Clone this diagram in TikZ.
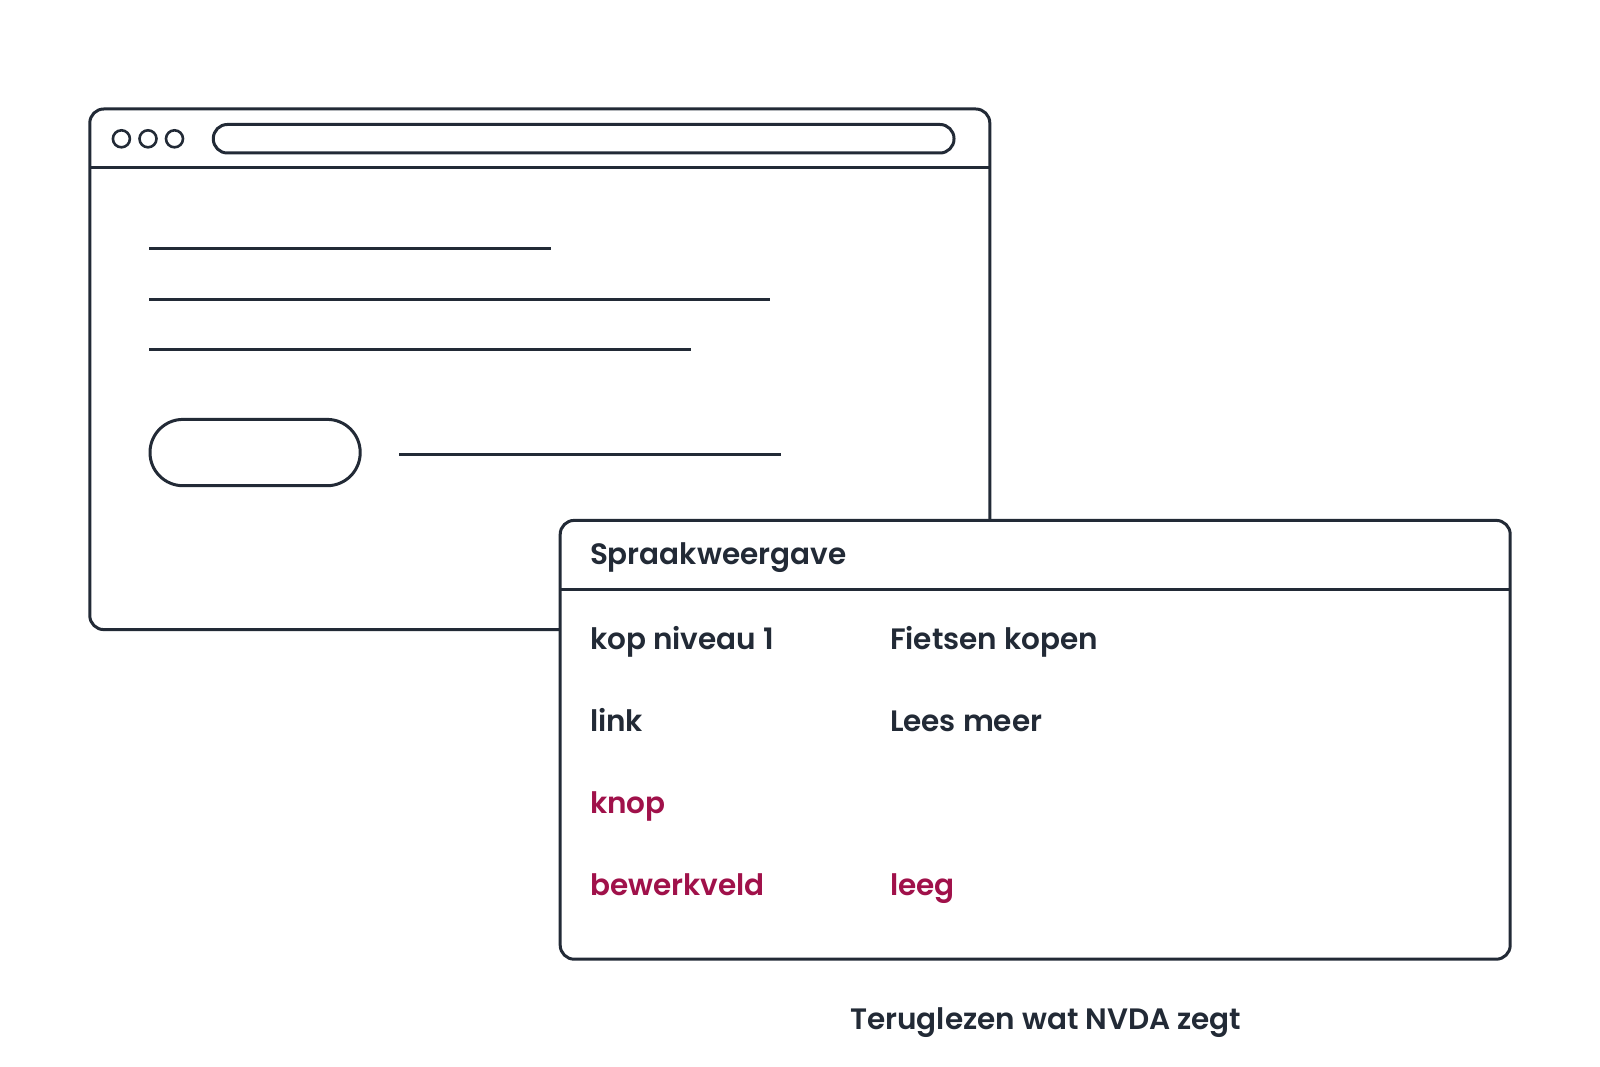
\documentclass[tikz,border=0pt]{standalone}
\usepackage{fontspec}
\setmainfont{Poppins}[UprightFont={* SemiBold}]
\definecolor{ink}{HTML}{222A36}
\definecolor{mag}{HTML}{A0114A}
\begin{document}
\begin{tikzpicture}[x=1pt,y=-1pt,
  frame/.style={draw=ink,line width=3pt},
  dot/.style={draw=ink,line width=2.6pt,circle,minimum size=17pt,inner sep=0pt},
  txt/.style={anchor=base west,text=ink,font=\fontsize{29.5}{35}\selectfont,inner sep=0pt},
  hl/.style={txt,text=mag}]
\useasboundingbox (0,0) rectangle (1600,1067);
% browser window
\draw[frame,rounded corners=14pt] (89.8,109) rectangle (989.8,629.6);
\draw[frame] (89.8,167.3) -- (989.8,167.3);
\node[dot] (d1) at (121.4,138.8) {};
\node[dot] (d2) at (148,138.8) {};
\node[dot] (d3) at (174.5,138.8) {};
\draw[frame,rounded corners=14pt] (213.3,124.5) rectangle (954,153);
\draw[frame] (149,249) -- (551,249);
\draw[frame] (149,299) -- (770.4,299);
\draw[frame] (149,349) -- (690.8,349);
\draw[frame,rounded corners=33pt] (150,419.4) rectangle (360.2,485.7);
\draw[frame] (399,454) -- (780.6,454);
% speech viewer
\draw[frame,fill=white,rounded corners=14pt] (560.2,520.4) rectangle (1510.2,959.2);
\draw[frame] (560.2,589.8) -- (1510.2,589.8);
\node[txt] (title) at (589.8,564.5) {Spraakweergave};
\node[txt] (r1a) at (589.8,649) {kop niveau 1};
\node[txt] (r1b) at (889.8,649) {Fietsen kopen};
\node[txt] (r2a) at (589.8,731) {link};
\node[txt] (r2b) at (889.8,731) {Lees meer};
\node[hl] (r3a) at (589.8,813) {knop};
\node[hl] (r4a) at (589.8,895) {bewerkveld};
\node[hl] (r4b) at (889.8,895) {leeg};
\node[txt] (cap) at (850,1029) {Teruglezen wat NVDA zegt};
\end{tikzpicture}
\end{document}
